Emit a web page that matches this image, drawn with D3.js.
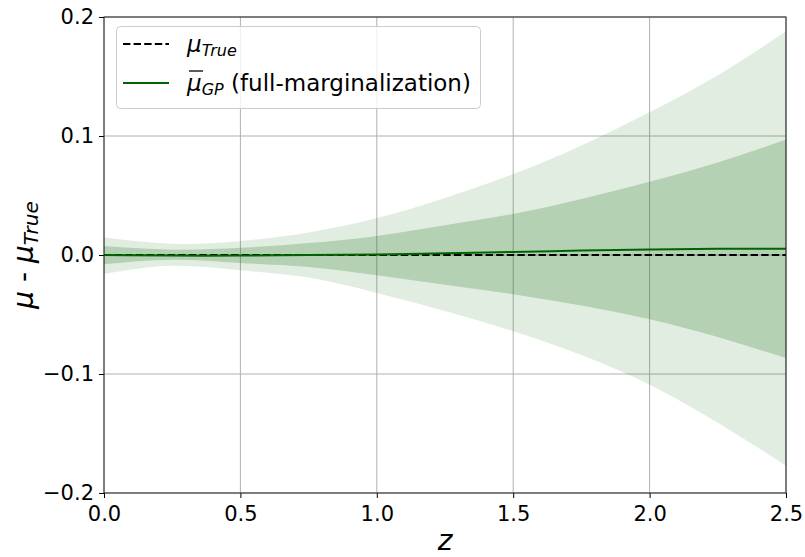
<!DOCTYPE html>
<html>
<head>
<meta charset="utf-8">
<script src="https://cdn.jsdelivr.net/npm/d3@7"></script>
<style>
  html, body { margin: 0; padding: 0; background: #fff; }
  svg { display: block; font-family: "DejaVu Sans", sans-serif; }
</style>
</head>
<body>
<svg id="chart" width="805" height="557"></svg>
<script>
// ---- data ----
const zValues      = [0, 0.25, 0.5, 0.75, 1.0, 1.25, 1.5, 1.75, 2.0, 2.25, 2.5];
const meanGP       = [0, -0.0005, -0.0005, 0, 0.0005, 0.0015, 0.0025, 0.0037, 0.0047, 0.0053, 0.0053];
const innerUpper   = [0.0075, 0.0045, 0.006, 0.010, 0.016, 0.025, 0.0345, 0.047, 0.0616, 0.0777, 0.0970];
const innerLower   = [-0.0078, -0.004, -0.0067, -0.010, -0.017, -0.025, -0.033, -0.0425, -0.054, -0.0690, -0.0866];
const outerUpper   = [0.015, 0.0095, 0.0117, 0.019, 0.031, 0.048, 0.068, 0.092, 0.120, 0.151, 0.188];
const outerLower   = [-0.016, -0.009, -0.0128, -0.019, -0.032, -0.047, -0.064, -0.084, -0.109, -0.141, -0.177];
const trueLine     = [0, 0];
const trueZ        = [0, 2.5];
const xTicks       = [0.0, 0.5, 1.0, 1.5, 2.0, 2.5];
const yTicks       = [-0.2, -0.1, 0.0, 0.1, 0.2];

const W = 805, H = 557;
const margin = {left: 104, right: 19, top: 17, bottom: 64};
const svg = d3.select("#chart");
const x = d3.scaleLinear().domain([0, 2.5]).range([margin.left, W - margin.right]);
const y = d3.scaleLinear().domain([-0.2, 0.2]).range([H - margin.bottom, margin.top]);

const pts = zValues.map((z, i) => ({z, m: meanGP[i], iu: innerUpper[i], il: innerLower[i], ou: outerUpper[i], ol: outerLower[i]}));

// grid
const grid = svg.append("g");
grid.selectAll(".gx").data(xTicks).join("line")
  .attr("x1", d => x(d)).attr("x2", d => x(d))
  .attr("y1", y(-0.2)).attr("y2", y(0.2))
  .attr("stroke", "#b0b0b0").attr("stroke-width", 1);
grid.selectAll(".gy").data(yTicks).join("line")
  .attr("x1", x(0)).attr("x2", x(2.5))
  .attr("y1", d => y(d)).attr("y2", d => y(d))
  .attr("stroke", "#b0b0b0").attr("stroke-width", 1);

svg.append("clipPath").attr("id", "clip").append("rect")
  .attr("x", x(0)).attr("y", y(0.2)).attr("width", x(2.5) - x(0)).attr("height", y(-0.2) - y(0.2));
const plot = svg.append("g").attr("clip-path", "url(#clip)");

const curve = d3.curveNatural;
const outerArea = d3.area().x(d => x(d.z)).y0(d => y(d.ol)).y1(d => y(d.ou)).curve(curve);
const innerArea = d3.area().x(d => x(d.z)).y0(d => y(d.il)).y1(d => y(d.iu)).curve(curve);

plot.append("path").datum(pts).attr("d", outerArea)
  .attr("fill", "rgba(20,110,20,0.12)").attr("stroke", "none");
plot.append("path").datum(pts).attr("d", innerArea)
  .attr("fill", "rgba(20,110,20,0.22)").attr("stroke", "none");

// true line (dashed)
plot.append("path").datum(trueZ.map((z, i) => ({z, v: trueLine[i]})))
  .attr("d", d3.line().x(d => x(d.z)).y(d => y(d.v)))
  .attr("fill", "none").attr("stroke", "#000").attr("stroke-width", 2).attr("stroke-dasharray", "7.4,3.2");

// mean line
plot.append("path").datum(pts)
  .attr("d", d3.line().x(d => x(d.z)).y(d => y(d.m)).curve(curve))
  .attr("fill", "none").attr("stroke", "#006400").attr("stroke-width", 2);

// axes
const xAxis = d3.axisBottom(x).tickValues(xTicks).tickFormat(d3.format(".1f")).tickSizeOuter(0).tickSize(5).tickPadding(4);
const yAxis = d3.axisLeft(y).tickValues(yTicks).tickFormat(d => d3.format(".1f")(d).replace("-", "\u2212")).tickSizeOuter(0).tickSize(5).tickPadding(5);

const gx = svg.append("g").attr("transform", `translate(0,${y(-0.2)})`).call(xAxis);
const gy = svg.append("g").attr("transform", `translate(${x(0)},0)`).call(yAxis);
[gx, gy].forEach(g => {
  g.selectAll("text").attr("font-size", 21).attr("font-family", "DejaVu Sans").attr("fill", "#000");
  g.selectAll("line").attr("stroke", "#000");
  g.select(".domain").remove();
});
gx.selectAll("text").attr("dy", "0.92em");

// frame
svg.append("rect").attr("x", x(0)).attr("y", y(0.2))
  .attr("width", x(2.5) - x(0)).attr("height", y(-0.2) - y(0.2))
  .attr("fill", "none").attr("stroke", "#222").attr("stroke-width", 1);

// axis labels
svg.append("text").attr("x", (x(0) + x(2.5)) / 2).attr("y", 550)
  .attr("text-anchor", "middle").attr("font-size", 28).attr("font-style", "italic").text("z");

const yl = svg.append("text").attr("transform", `translate(33,${(y(0.2) + y(-0.2)) / 2}) rotate(-90)`)
  .attr("text-anchor", "middle").attr("font-size", 28);
yl.append("tspan").attr("font-style", "italic").text("μ");
yl.append("tspan").text(" - ");
yl.append("tspan").attr("font-style", "italic").text("μ");
yl.append("tspan").attr("font-style", "italic").attr("font-size", 20).attr("dy", 5).text("True");

// legend
const lg = svg.append("g");
lg.append("rect").attr("x", 116.5).attr("y", 26.5).attr("width", 364).attr("height", 82).attr("rx", 4)
  .attr("fill", "rgba(255,255,255,0.8)").attr("stroke", "#cccccc").attr("stroke-width", 1);
lg.append("line").attr("x1", 123).attr("x2", 169).attr("y1", 44).attr("y2", 44)
  .attr("stroke", "#000").attr("stroke-width", 2).attr("stroke-dasharray", "7.4,3.2");
lg.append("line").attr("x1", 123).attr("x2", 169).attr("y1", 83).attr("y2", 83)
  .attr("stroke", "#006400").attr("stroke-width", 2);
const t1 = lg.append("text").attr("x", 187).attr("y", 52).attr("font-size", 23);
t1.append("tspan").attr("font-style", "italic").text("μ");
t1.append("tspan").attr("font-style", "italic").attr("font-size", 16).attr("dy", 4).text("True");
const t2 = lg.append("text").attr("x", 187).attr("y", 91).attr("font-size", 23);
t2.append("tspan").attr("font-style", "italic").text("μ");
t2.append("tspan").attr("font-style", "italic").attr("font-size", 16).attr("dy", 4).text("GP");
t2.append("tspan").attr("dy", -4).text(" (full-marginalization)");
// overline above μ in legend
lg.append("line").attr("x1", 189).attr("x2", 203).attr("y1", 71).attr("y2", 71)
  .attr("stroke", "#000").attr("stroke-width", 1.3);
</script>
</body>
</html>
